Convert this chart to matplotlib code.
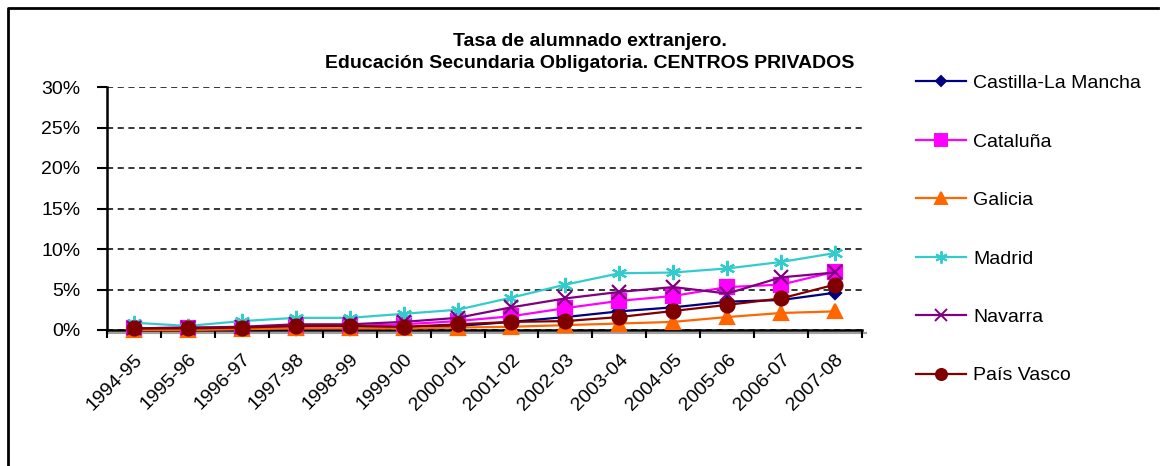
import matplotlib
matplotlib.use('Agg')
import matplotlib.pyplot as plt
from matplotlib.lines import Line2D

plt.rcParams['font.family'] = ['Liberation Sans', 'DejaVu Sans']

# datos: tasa de alumnado extranjero (%), ESO, centros privados
cursos = ['1994-95', '1995-96', '1996-97', '1997-98', '1998-99', '1999-00', '2000-01',
          '2001-02', '2002-03', '2003-04', '2004-05', '2005-06', '2006-07', '2007-08']
castilla = [0.0, 0.0, 0.1, 0.1, 0.1, 0.3, 0.5, 1.0, 1.6, 2.3, 2.8, 3.5, 3.7, 4.6]
cataluna = [0.2, 0.3, 0.2, 0.4, 0.5, 0.7, 1.1, 1.7, 2.7, 3.6, 4.2, 5.3, 5.6, 7.2]
galicia = [0.0, 0.0, 0.1, 0.2, 0.2, 0.2, 0.3, 0.4, 0.6, 0.8, 1.0, 1.6, 2.1, 2.3]
madrid = [0.9, 0.5, 1.1, 1.5, 1.5, 2.0, 2.5, 4.0, 5.6, 7.0, 7.1, 7.6, 8.4, 9.5]
navarra = [0.2, 0.3, 0.4, 0.7, 0.7, 1.0, 1.5, 2.8, 3.9, 4.7, 5.3, 4.5, 6.5, 7.1]
pais_vasco = [0.2, 0.2, 0.3, 0.5, 0.5, 0.4, 0.7, 1.0, 1.1, 1.6, 2.35, 3.1, 3.9, 5.6]

series = [
    ('Castilla-La Mancha', castilla, '#000080', 'D', 6),
    ('Cataluña', cataluna, '#FF00FF', 's', 10),
    ('Galicia', galicia, '#FF6600', '^', 10),
    ('Madrid', madrid, '#33CCCC', (6, 2, 0), 11),
    ('Navarra', navarra, '#800080', 'x', 10),
    ('País Vasco', pais_vasco, '#800000', 'o', 10),
]

fig = plt.figure(figsize=(11.6, 4.66), dpi=100)
W, H = 1160, 466
ax = fig.add_axes([107 / W, 1 - 330 / H, (862 - 107) / W, (330 - 87) / H])

x = list(range(len(cursos)))
handles = []
for nombre, vals, color, mk, ms in series:
    ax.plot(x, vals, color=color, lw=1.6, marker=mk, ms=ms, mew=1.6,
            mfc=color, mec=color, clip_on=False, zorder=3)
    handles.append(Line2D([], [], color=color, lw=1.6, marker=mk, ms=ms * 0.8,
                          mew=1.4, mfc=color, mec=color, label=nombre))

ax.set_xlim(-0.5, len(cursos) - 0.5)
ax.set_ylim(0, 30)
ax.set_yticks(range(0, 31, 5))
ax.set_yticklabels([f'{v}%' for v in range(0, 31, 5)], fontsize=14)
ax.yaxis.grid(True, color='black', ls=(0, (4, 3)), lw=1.1)
ax.set_axisbelow(True)

ax.set_xticks([i - 0.5 for i in range(len(cursos) + 1)])
ax.set_xticklabels([])
ax.set_xticks(x, minor=True)
ax.set_xticklabels(cursos, minor=True, rotation=45, ha='right', va='top',
                   rotation_mode='anchor', fontsize=14)
ax.tick_params(axis='x', which='minor', length=0, pad=15)
ax.tick_params(axis='x', which='major', length=6, width=1.5, direction='out')
ax.tick_params(axis='y', length=7, width=1.5, direction='out', pad=12)

for s in ['top', 'right']:
    ax.spines[s].set_visible(False)
for s in ['left', 'bottom']:
    ax.spines[s].set_linewidth(1.8)
    ax.spines[s].set_color('black')

# sombra gris bajo el eje X
fig.add_artist(Line2D([107 / W, 866 / W], [1 - 333 / H, 1 - 333 / H],
                      color='#A0A0A0', lw=1.5, transform=fig.transFigure, zorder=0))

fig.text(590 / W, 1 - 42 / H, 'Tasa de alumnado extranjero.', ha='center', va='center',
         fontsize=14, fontweight='bold')
fig.text(590 / W, 1 - 63 / H, 'Educación Secundaria Obligatoria. CENTROS PRIVADOS',
         ha='center', va='center', fontsize=14, fontweight='bold')

fig.legend(handles=handles, loc='center left', bbox_to_anchor=(916 / W, 1 - 229.5 / H),
           frameon=False, fontsize=14, labelspacing=2.1, handlelength=2.57,
           handletextpad=0.36, borderpad=0, borderaxespad=0)

# marco exterior del gráfico
fig.add_artist(Line2D([8 / W, 8 / W, 1158 / W], [0, 1 - 8 / H, 1 - 8 / H],
                      color='black', lw=2, transform=fig.transFigure))

fig.savefig('out.png', dpi=100)
